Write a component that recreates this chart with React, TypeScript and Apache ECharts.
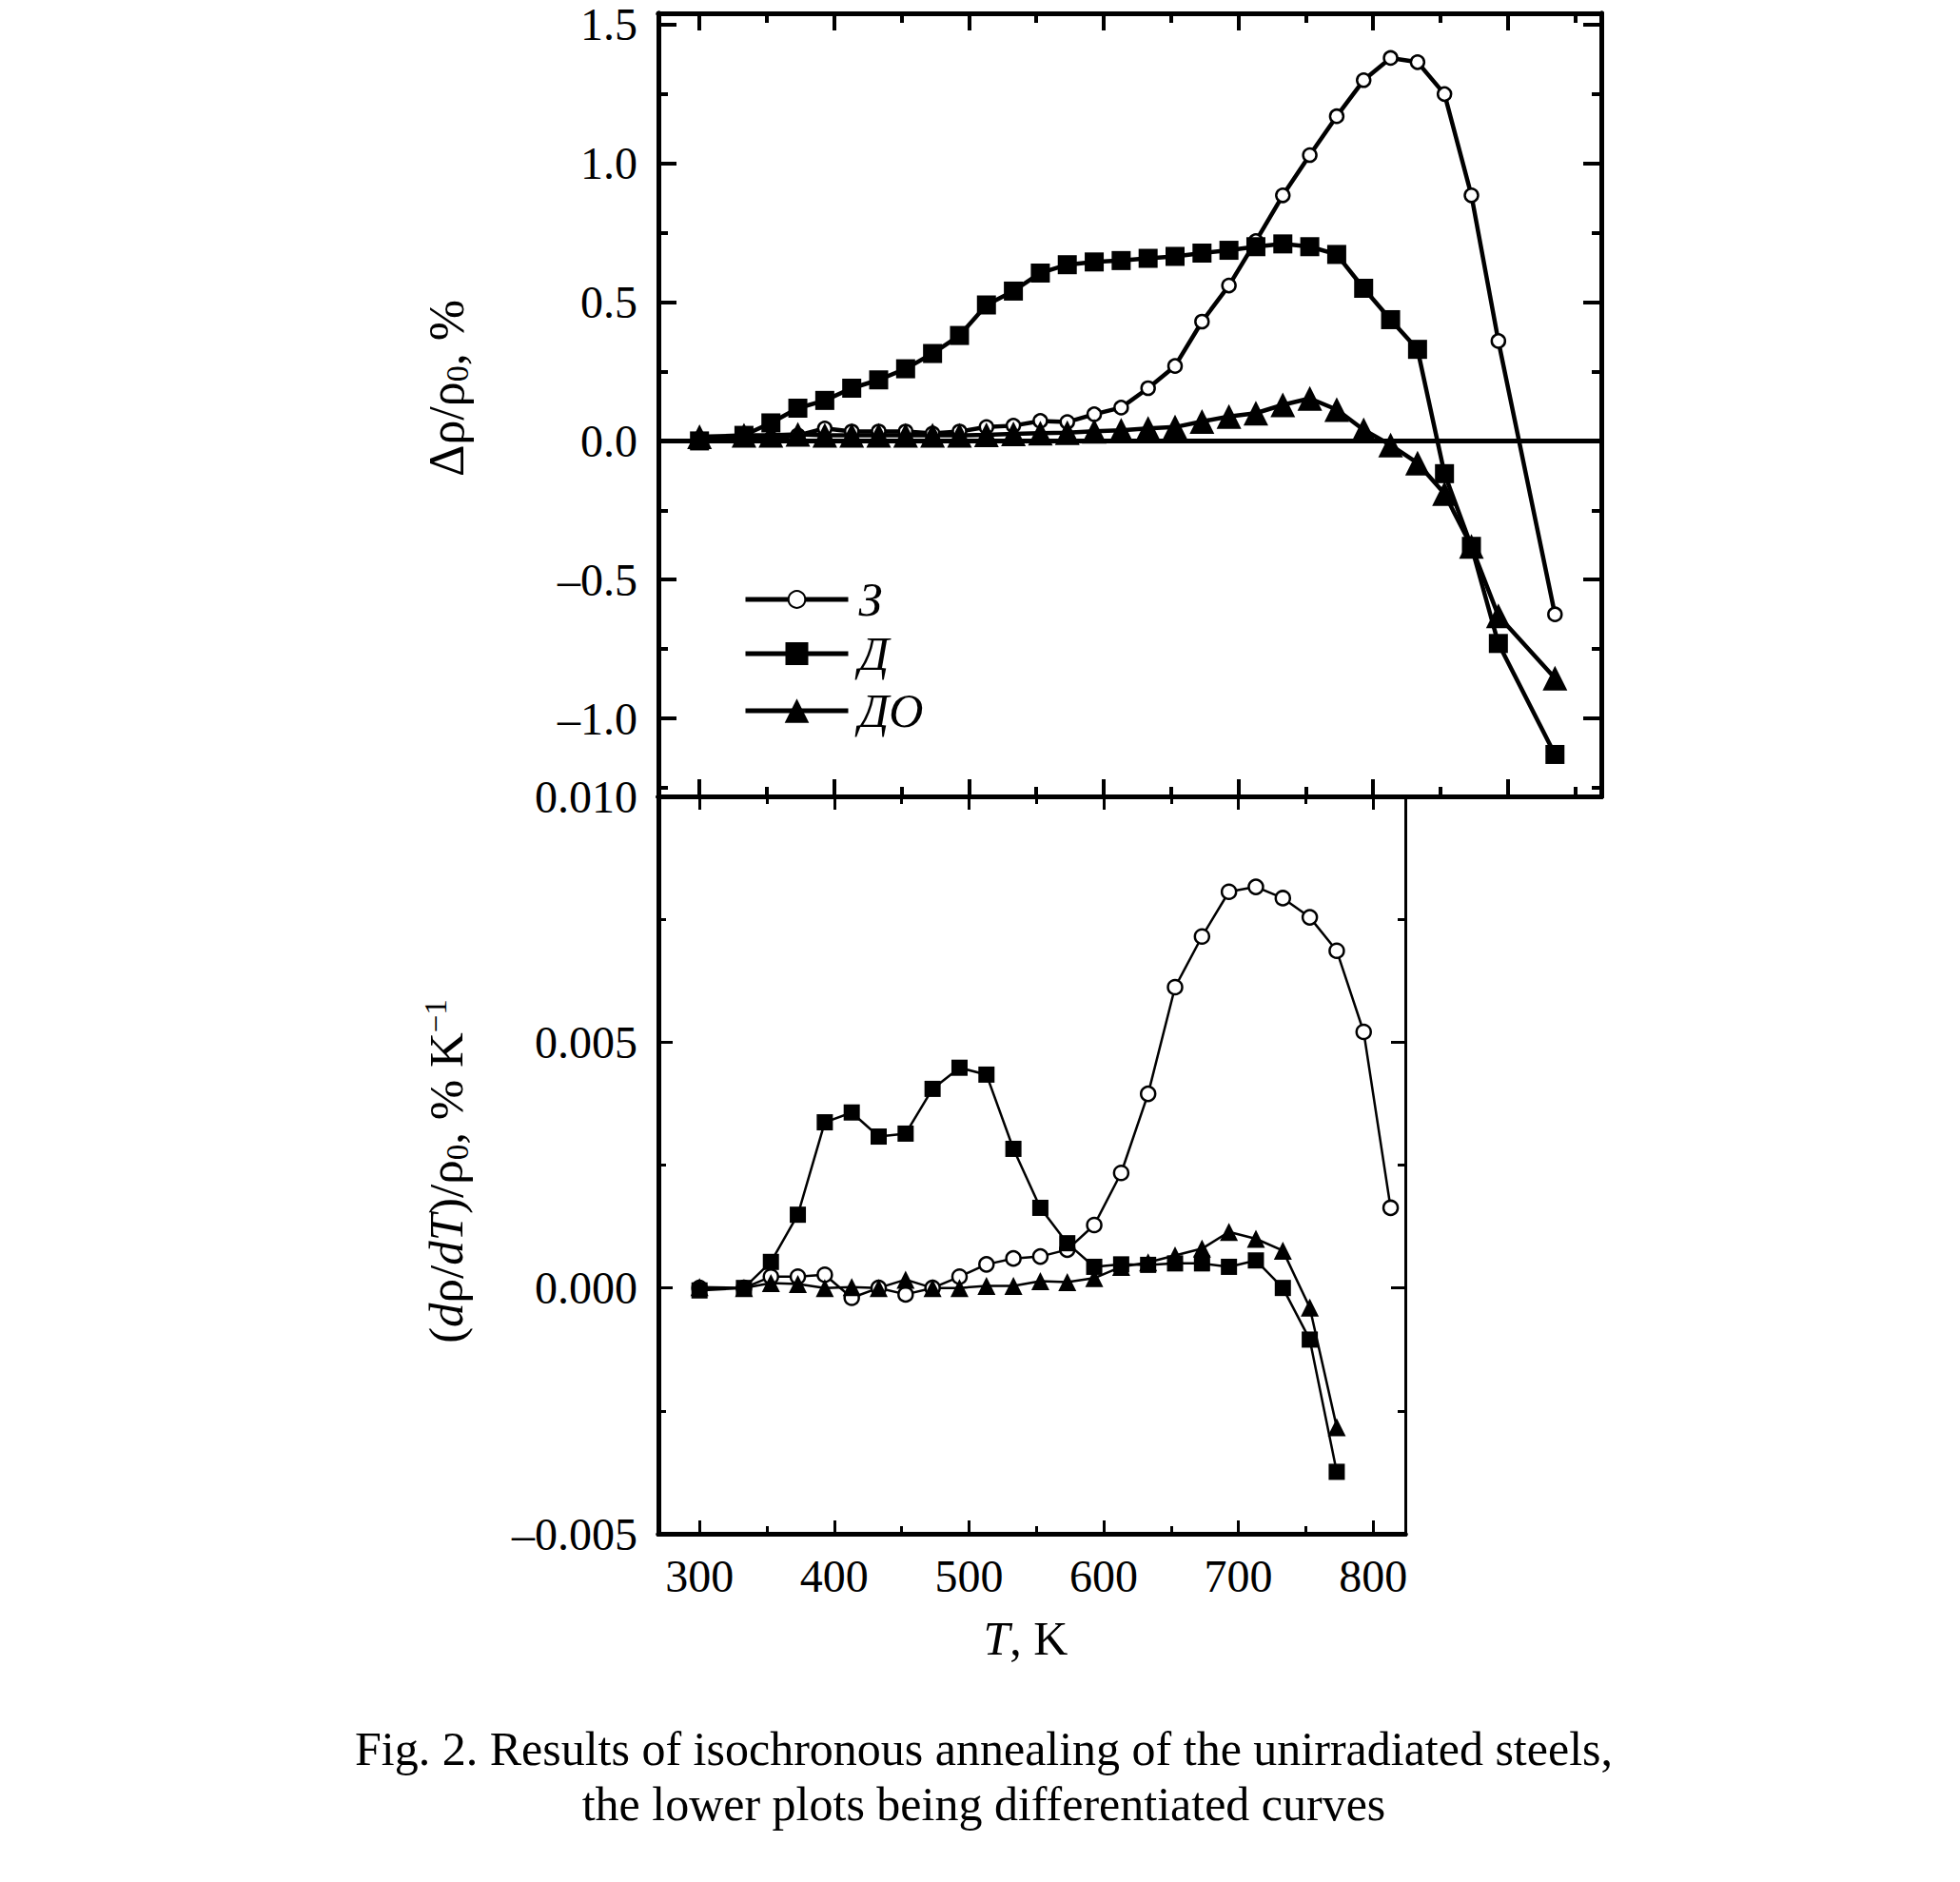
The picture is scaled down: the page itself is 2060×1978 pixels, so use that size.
import React, { useEffect, useRef } from "react";
import * as echarts from "echarts";

// ---------- data ----------
const tUpper = [300, 333, 353, 373, 393, 413, 433, 453, 473, 493, 513, 533, 553, 573, 593, 613, 633, 653, 673, 693, 713, 733, 753, 773, 793, 813, 833, 853, 873, 893, 935];
const zUpper = [0, 0.01, 0.008, 0.02, 0.045, 0.034, 0.034, 0.034, 0.027, 0.034, 0.05, 0.055, 0.072, 0.068, 0.096, 0.12, 0.19, 0.27, 0.43, 0.56, 0.72, 0.885, 1.03, 1.17, 1.3, 1.38, 1.365, 1.25, 0.885, 0.36, -0.625];
const dUpper = [0, 0.02, 0.065, 0.118, 0.146, 0.19, 0.22, 0.26, 0.315, 0.38, 0.49, 0.54, 0.605, 0.635, 0.645, 0.65, 0.658, 0.665, 0.677, 0.687, 0.7, 0.71, 0.7, 0.672, 0.55, 0.437, 0.33, -0.118, -0.38, -0.73, -1.13];
const doUpper = [0.015, 0.02, 0.02, 0.024, 0.02, 0.02, 0.02, 0.02, 0.02, 0.02, 0.022, 0.025, 0.028, 0.03, 0.035, 0.038, 0.045, 0.05, 0.07, 0.088, 0.1, 0.13, 0.153, 0.113, 0.04, -0.015, -0.08, -0.19, -0.38, -0.63, -0.855];

const tLower = [300, 333, 353, 373, 393, 413, 433, 453, 473, 493, 513, 533, 553, 573, 593, 613, 633, 653, 673, 693, 713, 733, 753, 773, 793, 813];
const zLower = [0, 0, 0.00023, 0.00023, 0.00027, -0.0002, 0, -0.00013, 0, 0.00023, 0.00048, 0.0006, 0.00064, 0.00078, 0.00128, 0.00234, 0.00395, 0.00612, 0.00715, 0.00806, 0.00816, 0.00793, 0.00754, 0.00686, 0.00521, 0.00163];
const dLower = [-0.00005, 0, 0.00053, 0.00149, 0.00337, 0.00357, 0.00308, 0.00314, 0.00405, 0.00448, 0.00434, 0.00283, 0.00163, 0.00091, 0.00043, 0.00048, 0.00047, 0.0005, 0.0005, 0.00043, 0.00056, 0, -0.00105, -0.00374];
const doLower = [0.00002, 0, 0.0001, 0.00008, 0, 0.00002, 0, 0.00017, 0, 0, 0.00004, 0.00004, 0.00014, 0.00012, 0.0002, 0.00043, 0.00052, 0.00066, 0.0008, 0.00114, 0.001, 0.00076, -0.0004, -0.00283];

const seriesNames = ["З", "Д", "ДО"];

const xMajorUpper = [300, 400, 500, 600, 700, 800, 900];
const xMinorUpper = [350, 450, 550, 650, 750, 850, 950];
const xMajorLower = [300, 400, 500, 600, 700, 800];
const xMinorLower = [350, 450, 550, 650, 750];
const yMajorUpper = [-1, -0.5, 0, 0.5, 1, 1.5];
const yMinorUpper = [-1.25, -0.75, -0.25, 0.25, 0.75, 1.25];
const yMajorLower = [-0.005, 0, 0.005, 0.01];
const yMinorLower = [-0.0025, 0.0025, 0.0075];

const captionLines = [
  "Fig. 2. Results of isochronous annealing of the unirradiated steels,",
  "the lower plots being differentiated curves",
];

// ---------- helpers ----------
const FONT = '"Liberation Serif", "Times New Roman", Times, serif';
const BLACK = "#000";
const X_MIN = 269.5;
const X_MAX_U = 969.4;
const X_MAX_L = 823.9;
const Y_MIN_U = -1.281;
const Y_MAX_U = 1.541;

const zip = (xs: number[], ys: number[]) => ys.map((y, i) => [xs[i], y]);

const dashNum = (v: number, d: number) => (v < -1e-12 ? "–" : "") + Math.abs(v).toFixed(d);

function mkAxis(
  kind: "x" | "y",
  gridIndex: number,
  position: string,
  min: number,
  max: number,
  ticks: number[],
  len: number,
  lineW: number,
  tickW: number,
  labels?: { values: number[]; size: number; margin: number; fmt: (v: number) => string }
) {
  return {
    type: "value",
    gridIndex,
    position,
    min,
    max,
    axisLine: { show: true, onZero: false, lineStyle: { color: BLACK, width: lineW } },
    axisTick: {
      show: true,
      inside: true,
      length: len,
      customValues: ticks,
      lineStyle: { color: BLACK, width: tickW },
    },
    axisLabel: labels
      ? {
          show: true,
          customValues: labels.values,
          color: BLACK,
          fontFamily: FONT,
          fontSize: labels.size,
          margin: labels.margin,
          formatter: (v: number) => labels.fmt(v),
        }
      : { show: false },
    splitLine: { show: false },
    minorTick: { show: false },
    minorSplitLine: { show: false },
  };
}

export default function App() {
  const ref = useRef<HTMLDivElement>(null);

  useEffect(() => {
    if (!ref.current) return;
    const chart = echarts.init(ref.current, undefined, { renderer: "svg" });

    const xAxes = [
      mkAxis("x", 0, "bottom", X_MIN, X_MAX_U, xMajorUpper, 18, 5, 4),
      mkAxis("x", 0, "bottom", X_MIN, X_MAX_U, xMinorUpper, 10, 5, 4),
      mkAxis("x", 0, "top", X_MIN, X_MAX_U, xMajorUpper, 18, 5, 4),
      mkAxis("x", 0, "top", X_MIN, X_MAX_U, xMinorUpper, 10, 5, 4),
      mkAxis("x", 1, "bottom", X_MIN, X_MAX_L, xMajorLower, 14, 5, 3, {
        values: xMajorLower,
        size: 48,
        margin: 20,
        fmt: (v) => String(v),
      }),
      mkAxis("x", 1, "bottom", X_MIN, X_MAX_L, xMinorLower, 8, 5, 3),
      mkAxis("x", 1, "top", X_MIN, X_MAX_L, xMajorLower, 14, 5, 3),
      mkAxis("x", 1, "top", X_MIN, X_MAX_L, xMinorLower, 8, 5, 3),
    ];
    const yAxes = [
      mkAxis("y", 0, "left", Y_MIN_U, Y_MAX_U, yMajorUpper, 19, 5, 4, {
        values: yMajorUpper,
        size: 48,
        margin: 22,
        fmt: (v) => dashNum(v, 1),
      }),
      mkAxis("y", 0, "left", Y_MIN_U, Y_MAX_U, yMinorUpper, 10, 5, 4),
      mkAxis("y", 0, "right", Y_MIN_U, Y_MAX_U, yMajorUpper, 19, 5, 4),
      mkAxis("y", 0, "right", Y_MIN_U, Y_MAX_U, yMinorUpper, 10, 5, 4),
      mkAxis("y", 1, "left", -0.005, 0.01, yMajorLower, 15, 5, 3, {
        values: yMajorLower,
        size: 48,
        margin: 22,
        fmt: (v) => dashNum(v, 3),
      }),
      mkAxis("y", 1, "left", -0.005, 0.01, yMinorLower, 8, 5, 3),
      mkAxis("y", 1, "right", -0.005, 0.01, yMajorLower, 15, 3, 3),
      mkAxis("y", 1, "right", -0.005, 0.01, yMinorLower, 8, 3, 3),
    ];

    const circleStyle = (size: number) => ({
      symbol: "circle",
      symbolSize: size,
      itemStyle: { color: "#fff", borderColor: BLACK, borderWidth: 2.5 },
    });
    const filledStyle = (sym: string, size: number) => ({
      symbol: sym,
      symbolSize: size,
      itemStyle: { color: BLACK, borderColor: BLACK, borderWidth: 0 },
    });
    const base = (lw: number, xi: number, yi: number) => ({
      type: "line",
      xAxisIndex: xi,
      yAxisIndex: yi,
      lineStyle: { color: BLACK, width: lw },
      showSymbol: true,
      showAllSymbol: true,
      silent: true,
      emphasis: { disabled: true },
      animation: false,
    });

    const series: any[] = [
      {
        ...base(4.5, 0, 0),
        ...circleStyle(14),
        name: seriesNames[0],
        data: zip(tUpper, zUpper),
        markLine: {
          silent: true,
          z: 1,
          symbol: ["none", "none"],
          label: { show: false },
          lineStyle: { color: BLACK, width: 5, type: "solid" },
          data: [{ yAxis: 0 }],
          animation: false,
        },
      },
      { ...base(4.5, 0, 0), ...filledStyle("triangle", 26), name: seriesNames[2], data: zip(tUpper, doUpper) },
      { ...base(4.5, 0, 0), ...filledStyle("rect", 20), name: seriesNames[1], data: zip(tUpper, dUpper) },
      { ...base(2.5, 4, 4), ...circleStyle(15), name: seriesNames[0], data: zip(tLower, zLower) },
      { ...base(2.5, 4, 4), ...filledStyle("triangle", 19), name: seriesNames[2], data: zip(tLower, doLower) },
      { ...base(2.5, 4, 4), ...filledStyle("rect", 17), name: seriesNames[1], data: zip(tLower, dLower) },
    ];

    const legendText = {
      color: BLACK,
      fontFamily: FONT,
      fontSize: 50,
      fontStyle: "italic",
      padding: [0, 0, 0, 6],
    };
    const mkLegend = (name: string, top: number, h: number) => ({
      show: true,
      data: [name],
      left: 781,
      top,
      orient: "vertical",
      padding: 0,
      itemWidth: 108,
      itemHeight: h,
      selectedMode: false,
      textStyle: legendText,
      lineStyle: { width: 5 },
    });

    const rich = (size: number) => ({
      n: { fontFamily: FONT, fontSize: size, fill: BLACK },
      i: { fontFamily: FONT, fontSize: size, fontStyle: "italic", fill: BLACK },
      s: { fontFamily: FONT, fontSize: Math.round(size * 0.65), fill: BLACK, padding: [Math.round(size * 0.45), 0, 0, 0] },
      p: { fontFamily: FONT, fontSize: Math.round(size * 0.65), fill: BLACK, padding: [0, 0, Math.round(size * 0.45), 0] },
    });

    const textEl = (x: number, y: number, text: string, size: number, rotation = 0, useRich = true) => ({
      type: "text",
      x,
      y,
      rotation,
      silent: true,
      style: {
        text,
        rich: useRich ? rich(size) : undefined,
        fill: BLACK,
        font: `${size}px ${FONT}`,
        fontFamily: FONT,
        fontSize: size,
        align: "center",
        textAlign: "center",
        verticalAlign: "middle",
        textVerticalAlign: "middle",
      },
    });

    chart.setOption({
      animation: false,
      backgroundColor: "#fff",
      grid: [
        { left: 692, top: 14, width: 991, height: 823, containLabel: false, outerBoundsMode: "none" },
        { left: 692, top: 837, width: 785, height: 775, containLabel: false, outerBoundsMode: "none" },
      ],
      xAxis: xAxes,
      yAxis: yAxes,
      legend: [mkLegend(seriesNames[0], 605, 22), mkLegend(seriesNames[1], 662, 30), mkLegend(seriesNames[2], 722, 32)],
      series,
      graphic: [
        textEl(469, 408, "{n|Δρ/ρ}{s|0}{n|, %}", 52, Math.PI / 2),
        textEl(469, 1231, "{n|(}{i|d}{n|ρ/}{i|dT}{n|)/ρ}{s|0}{n|, % K}{p|−1}", 51, Math.PI / 2),
        textEl(1078, 1722, "{i|T}{n|, K}", 50),
        textEl(1034, 1838, captionLines[0], 50, 0, false),
        textEl(1034, 1896, captionLines[1], 50, 0, false),
      ],
    });

    return () => chart.dispose();
  }, []);

  return (
    <div
      ref={ref}
      style={{ position: "absolute", left: 0, top: 0, width: 2060, height: 1978, background: "#fff" }}
    />
  );
}
